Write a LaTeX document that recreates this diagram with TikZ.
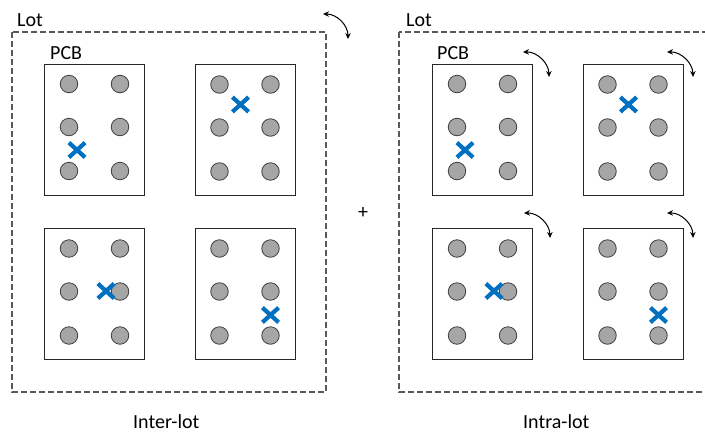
\documentclass[tikz,border=0pt]{standalone}
\usepackage{fontspec}
\setmainfont{Carlito}
\usetikzlibrary{arrows.meta, shapes.misc}
\definecolor{lotGray}{HTML}{595959}
\definecolor{padFill}{HTML}{A6A6A6}
\definecolor{padLine}{HTML}{3F3F3F}
\definecolor{defectBlue}{HTML}{0070C0}
\tikzset{
    lotbox/.style={draw=lotGray, line width=1.2pt, dash pattern=on 6pt off 3pt},
    pcbbox/.style={rectangle, draw=black!85, line width=1pt, fill=white, minimum width=100pt, minimum height=131pt, inner sep=0pt},
    pad/.style={circle, draw=padLine, fill=padFill, line width=0.8pt, minimum size=17.5pt, inner sep=0pt},
    defect/.style={cross out, draw=defectBlue, line width=4.2pt, minimum width=12pt, minimum height=10.5pt, inner sep=0pt},
    rotarrow/.style={{Stealth[length=6pt, width=5.5pt]}-{Stealth[length=6pt, width=5.5pt]}, line width=1pt, bend left=45},
    caption/.style={font=\fontsize{20}{24}\selectfont, inner sep=0pt, anchor=base west},
}
\begin{document}
\begin{tikzpicture}[x=1pt, y=-1pt]
    \path[use as bounding box, clip] (0,0) rectangle (705,432);
    % lots
    \draw[lotbox] (12,32) rectangle (326,392);
    \draw[lotbox] (399,32) rectangle (720,392);
    \node[caption] (lotL) at (17,26) {Lot};
    \node[caption] (lotR) at (406,26) {Lot};
    \node[caption] (pcbL) at (50,59) {PCB};
    \node[caption] (pcbR) at (437,59) {PCB};
    % boards, pads and defects
    \foreach \s/\dx in {L/0, R/388} {
        \node[pcbbox] (pcb\s1) at (94.5+\dx,129.5) {};
        \node[pcbbox] (pcb\s2) at (245+\dx,130) {};
        \node[pcbbox] (pcb\s3) at (94.5+\dx,294) {};
        \node[pcbbox] (pcb\s4) at (245+\dx,294) {};
        \foreach \p in {1,...,4}
            \foreach \px [count=\i] in {-25.5,25.5}
                \foreach \py [count=\j] in {-45.5,-2.5,41.5}
                    \node[pad] (pad\s\p\i\j) at ([shift={(\px,\py)}]pcb\s\p) {};
        \foreach \p/\ox/\oy in {1/-17.5/20.5, 2/-4.5/-25.5, 3/11.5/-3, 4/25.5/21}
            \node[defect] (defect\s\p) at ([shift={(\ox,\oy)}]pcb\s\p) {};
    }
    % rotations
    \draw[rotarrow] (323,14) to (348,39);
    \foreach \ax/\ay in {523/52, 667/52, 524/213, 667/213}
        \draw[rotarrow] (\ax,\ay) to (\ax+26,\ay+25);
    \node[caption, anchor=center] (plus) at (363,213) {+};
    \node[caption] (interLot) at (133,428) {Inter-lot};
    \node[caption] (intraLot) at (523,428) {Intra-lot};
\end{tikzpicture}
\end{document}
